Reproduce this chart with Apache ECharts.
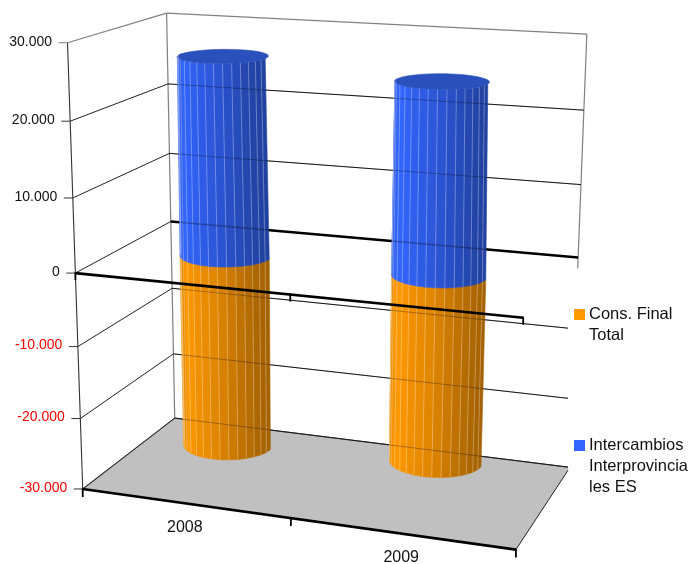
<!DOCTYPE html>
<html><head><meta charset="utf-8">
<style>html,body{margin:0;padding:0;background:#fff}#c{width:689px;height:564px}</style>
<script src="https://cdn.jsdelivr.net/npm/echarts@6/dist/echarts.min.js"></script>
</head><body><div id="c"></div>
<script>
const categories = ['2008', '2009'];
const consFinal = [-27000, -25600];
const intercambios = [26900, 25300];
const yTickValues = [30000, 20000, 10000, 0, -10000, -20000, -30000];
const yTickLabels = ['30.000', '20.000', '10.000', '0', '-10.000', '-20.000', '-30.000'];
const legendConsFinal = 'Cons. Final Total';
const legendIntercambios = 'Intercambios Interprovinciales ES';

// Camera calibration for the 3-D look: [u, value, depth, screenX, screenY]
const cameraAnchors = [
  [0,30000,0,67,43],[0,20000,0,70,120],[0,10000,0,73,198],[0,0,0,75,273],[0,-10000,0,78,346],[0,-20000,0,81,418],[0,-30000,0,83,489],
  [0,30000,1,167,13],[0,20000,1,168,84],[0,10000,1,170,154],[0,0,1,171,221.5],[0,-10000,1,172,288],[0,-20000,1,173,354],[0,-30000,1,174,418],
  [1,30000,1,587,34],[1,20000,1,583,110],[1,10000,1,581,185],[1,0,1,579,257],
  [1,0,0,523,317],[1,-30000,0,516,549],[.5,0,0,290,297],[.5,-30000,0,291,519]
];
function solve(A, b) {
  const n = b.length;
  for (let i = 0; i < n; i++) {
    let m = i;
    for (let r = i + 1; r < n; r++) if (Math.abs(A[r][i]) > Math.abs(A[m][i])) m = r;
    [A[i], A[m]] = [A[m], A[i]]; [b[i], b[m]] = [b[m], b[i]];
    for (let r = i + 1; r < n; r++) {
      const f = A[r][i] / A[i][i];
      for (let c = i; c < n; c++) A[r][c] -= f * A[i][c];
      b[r] -= f * b[i];
    }
  }
  const x = new Array(n).fill(0);
  for (let i = n - 1; i >= 0; i--) {
    let s = b[i];
    for (let c = i + 1; c < n; c++) s -= A[i][c] * x[c];
    x[i] = s / A[i][i];
  }
  return x;
}
const P = (function () {
  const ata = Array.from({length: 11}, () => new Array(11).fill(0)), atb = new Array(11).fill(0);
  const add = (row, y) => { for (let i = 0; i < 11; i++) { atb[i] += row[i] * y; for (let j = 0; j < 11; j++) ata[i][j] += row[i] * row[j]; } };
  cameraAnchors.forEach(([u, v, w, X, Y]) => {
    const t = (v + 30000) / 60000;
    add([u, t, w, 1, 0, 0, 0, 0, -X * u, -X * t, -X * w], X);
    add([0, 0, 0, 0, u, t, w, 1, -Y * u, -Y * t, -Y * w], Y);
  });
  return solve(ata, atb);
})();
function proj(u, t, w) {
  const d = P[8] * u + P[9] * t + P[10] * w + 1;
  return [(P[0] * u + P[1] * t + P[2] * w + P[3]) / d, (P[4] * u + P[5] * t + P[6] * w + P[7]) / d];
}
const CLIP_X = 568;
function clipSeg(a, b) {
  if (b[0] <= CLIP_X) return [a, b];
  const k = (CLIP_X - a[0]) / (b[0] - a[0]);
  return [a, [CLIP_X, a[1] + k * (b[1] - a[1])]];
}
function clipPoly(pts) {
  const out = [];
  pts.forEach((p, i) => {
    const q = pts[(i + 1) % pts.length];
    const pin = p[0] <= CLIP_X, qin = q[0] <= CLIP_X;
    if (pin) out.push(p);
    if (pin !== qin) {
      const k = (CLIP_X - p[0]) / (q[0] - p[0]);
      out.push([CLIP_X, p[1] + k * (q[1] - p[1])]);
    }
  });
  return out;
}
function line(a, b, stroke, lineWidth, opacity) {
  return {type: 'line', shape: {x1: a[0], y1: a[1], x2: b[0], y2: b[1]},
    style: {stroke, lineWidth, opacity: opacity == null ? 1 : opacity, lineCap: 'butt'}, silent: true};
}
function poly(points, fill, stroke) {
  return {type: 'polygon', shape: {points}, style: {fill, stroke: stroke || fill, lineWidth: stroke ? 0.6 : 0}, silent: true};
}
function tOf(api, v) {
  return 1 - api.coord([0, v])[1] / 564;
}
const TXT = '"Liberation Sans", Arial, sans-serif';
const GREY = '#808080', BLACK = '#000', THICK = 2.6;

function renderFrame(params, api) {
  const t0 = tOf(api, -30000), t1 = tOf(api, 30000);
  const c = [];
  const fp = [proj(0, t0, 0), proj(1, t0, 0), proj(1, t0, 1), proj(0, t0, 1)];
  c.push(poly(clipPoly(fp), '#C0C0C0'));
  c.push(line(proj(0, t1, 1), proj(0, t0, 1), GREY, 1.2));
  c.push(line(proj(1, t1, 1), proj(1, tOf(api, -1500), 1), GREY, 1.2));
  c.push(line(proj(0, t1, 1), proj(1, t1, 1), GREY, 1.2));
  c.push(line(proj(0, t1, 0), proj(0, t1, 1), GREY, 1.2));
  c.push(line(proj(0, t0, 0), proj(0, t0, 1), GREY, 1.2));
  const be = clipSeg(proj(0, t0, 1), proj(1, t0, 1));
  c.push(line(be[0], be[1], GREY, 1.2));
  const re = clipSeg(proj(1, t0, 0), proj(1, t0, 1));
  c.push(line(re[0], re[1], '#222', 1));
  c.push(line(proj(0, t1, 0), proj(0, t0, 0), '#333', 1.1));
  return {type: 'group', children: c};
}
function renderTick(params, api) {
  const v = api.value(1), t = tOf(api, v), c = [];
  const a = proj(0, t, 0), b = proj(0, t, 1), r = proj(1, t, 1);
  if (v < 30000) {
    c.push(line(a, b, '#222', 1));
    if (v === 0) {
      c.push(line(b, r, BLACK, THICK));
    } else {
      const s = v < 0 ? clipSeg(b, r) : [b, r];
      c.push(line(s[0], s[1], '#222', 1));
    }
  }
  c.push(line([a[0] - 9, a[1]], a, v === 30000 ? GREY : '#333', 1));
  c.push({type: 'text', silent: true, style: {x: a[0] - 15.5, y: a[1] - 1, text: yTickLabels[params.dataIndex],
    fill: v < 0 ? '#FF0000' : '#111', font: '14px ' + TXT, align: 'right', verticalAlign: 'middle'}});
  return {type: 'group', children: c};
}
const SHADE = {
  orange: [[232,140,0],[255,153,0],[222,133,0],[165,98,0]],
  blue: [[47,94,232],[51,102,255],[44,86,216],[33,66,160]]
};
function shade(name, s) {
  const st = SHADE[name];
  const [a, b, k] = s < 0.15 ? [st[0], st[1], s / 0.15] : s < 0.6 ? [st[1], st[2], (s - 0.15) / 0.45] : [st[2], st[3], (s - 0.6) / 0.4];
  return 'rgb(' + a.map((x, i) => Math.round(x + (b[i] - x) * k)).join(',') + ')';
}
const RU = 0.104, RW = 0.2, WC = 0.5, FACETS = 32;
function cylinder(name, cap) {
  return function (params, api) {
    const cat = api.value(0), val = api.value(1);
    const base = api.coord([cat, 0]), top = api.coord([cat, val]);
    const uc = base[0] / 689, tA = 1 - base[1] / 564, tB = 1 - top[1] / 564;
    const pt = (th, tt) => {
      const taper = 1 - 0.05 * Math.max(0, (tt - 0.5) * 2);
      return proj(uc + RU * taper * Math.cos(th) - (tt > 0.5 ? 0.002 : 0), tt, WC - RW * Math.sin(th));
    };
    const c = [], edges = [];
    for (let i = 0; i < FACETS; i++) {
      const a = i / FACETS * 2 * Math.PI, b = (i + 1) / FACETS * 2 * Math.PI;
      if (Math.sin((a + b) / 2) < -0.05) continue;
      const s = (1 + Math.cos((a + b) / 2)) / 2;
      const leftToRight = 1 - (1 - s);
      const col = shade(name, leftToRight);
      c.push(poly([pt(a, tA), pt(b, tA), pt(b, tB), pt(a, tB)], col, col));
      if (i > 0) edges.push(line(pt(a, tA), pt(a, tB), '#fff', 1, 0.28));
    }
    if (cap) {
      const e = [];
      for (let i = 0; i < FACETS; i++) e.push(pt(i / FACETS * 2 * Math.PI, tB));
      c.push(poly(e, cap, cap));
    }
    return {type: 'group', children: c.concat(edges)};
  };
}
function renderOverlay(params, api) {
  const v = api.value(1), t = tOf(api, v), c = [];
  const b = proj(0, t, 1), r = proj(1, t, 1);
  const s = v < 0 ? clipSeg(b, r) : [b, r];
  c.push(line(s[0], s[1], '#000', v === 0 ? 1.6 : 1, 0.28));
  return {type: 'group', children: c};
}
function renderFront(params, api) {
  const t0 = tOf(api, -30000), tz = tOf(api, 0), c = [];
  [tz, t0].forEach((t) => {
    c.push(line(proj(0, t, 0), proj(1, t, 0), BLACK, THICK));
    [0, 0.5, 1].forEach((u) => {
      const p = proj(u, t, 0);
      c.push(line([p[0], p[1] - 1], [p[0], p[1] + (t === t0 ? 8 : 7)], BLACK, 1.8));
    });
  });
  categories.forEach((name, i) => {
    const g = api.coord([i, -30000]);
    const p = proj(g[0] / 689, t0, 0);
    c.push({type: 'text', silent: true, style: {x: p[0], y: p[1] + 24.5, text: name, fill: '#111',
      font: '16px ' + TXT, align: 'center', verticalAlign: 'middle'}});
  });
  return {type: 'group', children: c};
}
const tickData = yTickValues.map((v) => [categories[0], v]);
const legendLines = {};
legendLines[legendConsFinal] = ' \nCons. Final\nTotal';
legendLines[legendIntercambios] = ' \n \nIntercambios\nInterprovincia\nles ES';
const legendBase = {orient: 'vertical', icon: 'rect', itemWidth: 11, itemHeight: 11, itemGap: 0, padding: 0,
  selectedMode: false, left: 574, formatter: (n) => legendLines[n],
  textStyle: {fontFamily: TXT, fontSize: 16.5, color: '#111', lineHeight: 21, padding: [0, 0, 0, -1]}};
const chart = echarts.init(document.getElementById('c'), null, {renderer: 'canvas'});
chart.setOption({
  animation: false,
  backgroundColor: '#fff',
  grid: {left: 0, top: 0, width: 689, height: 564, show: false},
  xAxis: {type: 'category', data: categories, show: false},
  yAxis: {type: 'value', min: -30000, max: 30000, interval: 10000, show: false},
  legend: [
    Object.assign({}, legendBase, {data: [legendConsFinal], top: 283}),
    Object.assign({}, legendBase, {data: [legendIntercambios], top: 393})
  ],
  series: [
    {type: 'custom', name: 'frame', z: 1, encode: {x: 0, y: 1}, data: [[categories[0], 0]], renderItem: renderFrame, silent: true},
    {type: 'custom', name: 'ticks', z: 2, encode: {x: 0, y: 1}, data: tickData, renderItem: renderTick, silent: true},
    {type: 'custom', name: legendConsFinal, z: 3, encode: {x: 0, y: 1}, itemStyle: {color: '#FF9900'},
      data: categories.map((c, i) => [c, consFinal[i]]), renderItem: cylinder('orange', null), silent: true},
    {type: 'custom', name: legendIntercambios, z: 4, encode: {x: 0, y: 1}, itemStyle: {color: '#3366FF'},
      data: categories.map((c, i) => [c, intercambios[i]]), renderItem: cylinder('blue', '#2a50bc'), silent: true},
    {type: 'custom', name: 'through', z: 5, encode: {x: 0, y: 1}, data: tickData.slice(1), renderItem: renderOverlay, silent: true},
    {type: 'custom', name: 'front', z: 6, encode: {x: 0, y: 1}, data: [[categories[0], 0]], renderItem: renderFront, silent: true}
  ]
});
</script></body></html>
